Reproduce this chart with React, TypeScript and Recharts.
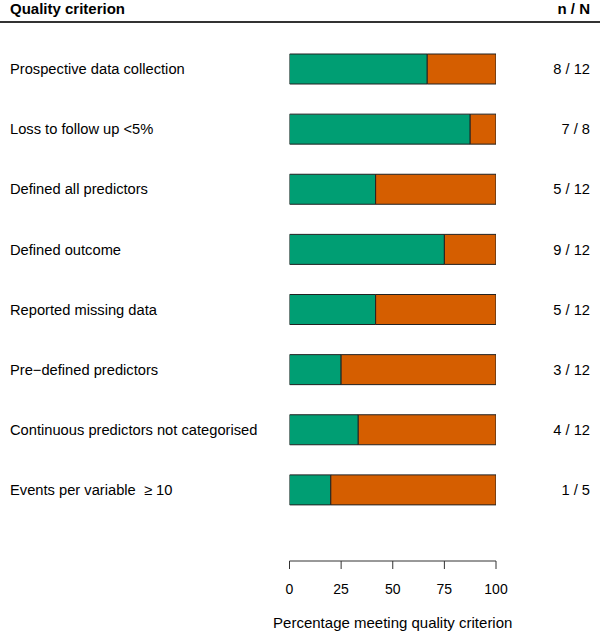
import { BarChart, Bar, XAxis, YAxis } from 'recharts'

const criteria = [
  'Prospective data collection',
  'Loss to follow up <5%',
  'Defined all predictors',
  'Defined outcome',
  'Reported missing data',
  'Pre\u2212defined predictors',
  'Continuous predictors not categorised',
  'Events per variable \u00a0\u2265 10',
]
const nMet = [8, 7, 5, 9, 5, 3, 4, 1]
const nTotal = [12, 8, 12, 12, 12, 12, 12, 5]
const pctMet = [66.7, 87.5, 41.7, 75, 41.7, 25, 33.3, 20]
const xTicks = [0, 25, 50, 75, 100]

const GREEN = '#009E73'
const ORANGE = '#D55E00'
const FONT = '"Liberation Sans", Arial, Helvetica, sans-serif'

const data = criteria.map((name, i) => ({
  name,
  met: pctMet[i],
  notMet: 100 - pctMet[i],
  nN: `${nMet[i]} / ${nTotal[i]}`,
}))

function RowTick(props: any) {
  const { y, payload } = props
  const row = data.find((d) => d.name === payload.value)
  return (
    <g>
      <text x={10} y={y} dy="0.35em" fontSize={14.7} fill="#000" fontFamily={FONT} textAnchor="start">
        {payload.value}
      </text>
      <text x={590} y={y} dy="0.35em" fontSize={14.7} fill="#000" fontFamily={FONT} textAnchor="end">
        {row?.nN}
      </text>
    </g>
  )
}

export default function App() {
  return (
    <div style={{ position: 'absolute', left: 0, top: 0, width: 600, height: 632, background: '#fff' }}>
      <svg width={600} height={30} style={{ position: 'absolute', left: 0, top: 0 }}>
        <text x={10} y={14} fontSize={15} fontWeight="bold" fontFamily={FONT} fill="#000">Quality criterion</text>
        <text x={590} y={14} fontSize={15} fontWeight="bold" fontFamily={FONT} fill="#000" textAnchor="end">n / N</text>
        <line x1={0} x2={600} y1={22} y2={22} stroke="#333" strokeWidth={2} />
      </svg>
      <BarChart
        width={600}
        height={632}
        data={data}
        layout="vertical"
        barSize={30}
        margin={{ top: 39, right: 104, bottom: 41, left: 0 }}
      >
        <XAxis
          type="number"
          domain={[0, 100]}
          ticks={xTicks}
          tickSize={8}
          tickMargin={15}
          stroke="#333"
          tick={{ fontSize: 14, fill: '#000', fontFamily: FONT }}
          label={{ value: 'Percentage meeting quality criterion', position: 'insideBottom', offset: -37, fontSize: 15, fill: '#000', fontFamily: FONT }}
          allowDataOverflow
        />
        <YAxis
          type="category"
          dataKey="name"
          width={289.5}
          axisLine={false}
          tickLine={false}
          tick={<RowTick />}
          padding={{ top: 0, bottom: 41 }}
        />
        <Bar dataKey="met" stackId="a" fill={GREEN} stroke="#222" strokeWidth={1} isAnimationActive={false} />
        <Bar dataKey="notMet" stackId="a" fill={ORANGE} stroke="#222" strokeWidth={1} isAnimationActive={false} />
      </BarChart>
    </div>
  )
}
